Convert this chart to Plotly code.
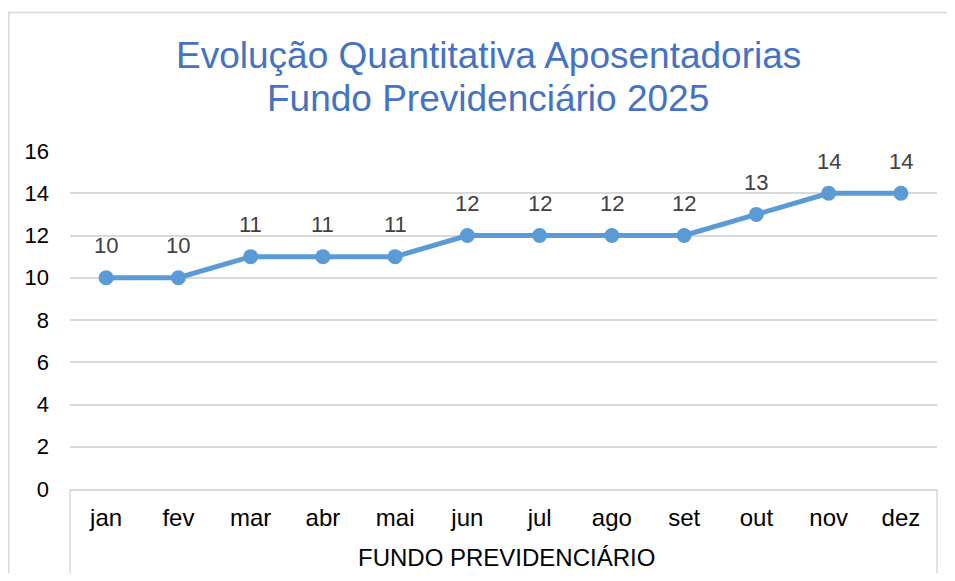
import plotly.graph_objects as go

months = ["jan", "fev", "mar", "abr", "mai", "jun", "jul", "ago", "set", "out", "nov", "dez"]
values = [10, 10, 11, 11, 11, 12, 12, 12, 12, 13, 14, 14]
y_ticks = [0, 2, 4, 6, 8, 10, 12, 14, 16]
title_lines = ["Evolução Quantitativa Aposentadorias", "Fundo Previdenciário 2025"]
group_label = "FUNDO PREVIDENCIÁRIO"

OFF = 8  # page body margin
W, H = 955 - 2 * OFF, 581 - 2 * OFF
ml, mr, mt, mb = 70 - OFF, W - (937 - OFF), 151 - OFF, H - (489 - OFF)
pw = W - ml - mr
ph = H - mt - mb

def px_x(x):
    return (x - OFF - ml) / pw

def px_y(y):
    return (H - mb - (y - OFF)) / ph

FONT = "Liberation Sans, Arial, sans-serif"
LINE_COLOR = "#5B9BD5"
GRID = "#D9D9D9"

fig = go.Figure()
fig.add_trace(go.Scatter(
    x=months, y=values, mode="lines+markers",
    line=dict(color=LINE_COLOR, width=5),
    marker=dict(color=LINE_COLOR, size=15),
    hoverinfo="x+y", showlegend=False,
))

for m, v in zip(months, values):
    fig.add_annotation(x=m, y=v, text=str(v), showarrow=False, yshift=32,
                       font=dict(family=FONT, size=22, color="#404040"))

for line, yc in zip(title_lines, [55, 98]):
    fig.add_annotation(xref="paper", yref="paper", x=px_x(488), y=px_y(yc),
                       text=line, showarrow=False,
                       font=dict(family=FONT, size=37, color="#4472C4"),
                       xanchor="center", yanchor="middle")

fig.add_annotation(xref="paper", yref="paper", x=px_x(506), y=px_y(557),
                   text=group_label, showarrow=False,
                   font=dict(family=FONT, size=24, color="#000000"),
                   xanchor="center", yanchor="middle")

# outer chart border (left + top visible)
fig.add_shape(type="line", xref="paper", yref="paper",
              x0=px_x(OFF + 0.75), x1=px_x(OFF + 0.75), y0=px_y(12.5), y1=px_y(640),
              line=dict(color="#D9D9D9", width=1.5))
fig.add_shape(type="line", xref="paper", yref="paper",
              x0=px_x(OFF), x1=px_x(1000), y0=px_y(12.5), y1=px_y(12.5),
              line=dict(color="#D9D9D9", width=1.5))
# category axis box side lines
for xx in (70, 937):
    fig.add_shape(type="line", xref="paper", yref="paper",
                  x0=px_x(xx), x1=px_x(xx), y0=px_y(489), y1=px_y(575),
                  line=dict(color="#D9D9D9", width=1.5))

fig.update_layout(
    width=W, height=H,
    margin=dict(l=ml, r=mr, t=mt, b=mb),
    paper_bgcolor="white", plot_bgcolor="white",
    font=dict(family=FONT, size=22, color="#000000"),
    xaxis=dict(type="category", showgrid=False, showline=True, linecolor=GRID, linewidth=1.5,
               ticks="", tickfont=dict(size=24, color="#000000"), zeroline=False,
               ticklabelstandoff=6,
               range=[-0.5, len(months) - 0.5], fixedrange=True),
    yaxis=dict(range=[0, 16], tickvals=y_ticks, showgrid=True, gridcolor=GRID, gridwidth=1.5,
               zeroline=False, showline=False, ticks="", ticklabelstandoff=20,
               tickfont=dict(size=22, color="#000000"), fixedrange=True),
)

fig.write_html("out.html")
